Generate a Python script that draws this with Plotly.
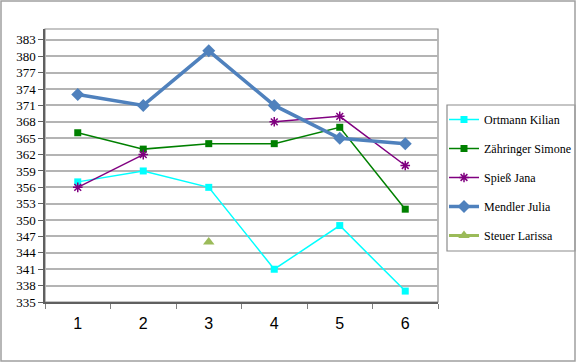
import plotly.graph_objects as go

categories = ["1", "2", "3", "4", "5", "6"]
ortmann = [357, 359, 356, 341, 349, 337]
zaehringer = [366, 363, 364, 364, 367, 352]
spiess = [356, 362, None, 368, 369, 360]
mendler = [373, 371, 381, 371, 365, 364]
steuer = [None, None, 346, None, None, None]
y_ticks = list(range(335, 386, 3))

SERIF = "Liberation Serif, Times New Roman, Times, serif"
SANS = "Liberation Sans, Arial, sans-serif"

fig = go.Figure()
fig.add_trace(go.Scatter(x=categories, y=ortmann, name="Ortmann Kilian", mode="lines+markers",
                         line=dict(color="#00FFFF", width=1.5),
                         marker=dict(symbol="square", size=7, color="#00FFFF")))
fig.add_trace(go.Scatter(x=categories, y=zaehringer, name="Zähringer Simone", mode="lines+markers",
                         line=dict(color="#008000", width=1.5),
                         marker=dict(symbol="square", size=7, color="#008000")))
fig.add_trace(go.Scatter(x=categories, y=spiess, name="Spieß Jana", mode="lines+markers",
                         connectgaps=False,
                         line=dict(color="#800080", width=1.5),
                         marker=dict(symbol="asterisk-open", size=8, color="#800080",
                                     line=dict(color="#800080", width=1.5))))
fig.add_trace(go.Scatter(x=categories, y=mendler, name="Mendler Julia", mode="lines+markers",
                         line=dict(color="#4F81BD", width=3.5),
                         marker=dict(symbol="diamond", size=10, color="#4F81BD")))
fig.add_trace(go.Scatter(x=categories, y=steuer, name="Steuer Larissa", mode="lines+markers",
                         line=dict(color="#9BBB59", width=3),
                         marker=dict(symbol="triangle-up", size=10, color="#9BBB59")))

for i, tr in enumerate(fig.data):
    tr.legendgroup = f"g{i}"

# plot area in page pixels: x 45..438, y 29..302
L, R, T, B = 45, 438, 29, 302
W, H = 577, 363
pw, ph = R - L, B - T

def px(x):
    return (x - L) / pw

def py(y):
    return (B - y) / ph

fig.update_layout(
    width=W, height=H,
    margin=dict(l=L, r=W - R, t=T, b=H - B, autoexpand=False),
    paper_bgcolor="white", plot_bgcolor="white",
    showlegend=True,
    legend=dict(x=px(444), y=py(105), xanchor="left", yanchor="top",
                borderwidth=0, bgcolor="rgba(0,0,0,0)",
                font=dict(family=SERIF, size=12, color="black"),
                tracegroupgap=10, itemwidth=30),
    xaxis=dict(type="category", tickson="boundaries", ticks="outside", ticklen=5,
               tickcolor="#808080", showgrid=False, showline=True, linecolor="#606060",
               linewidth=1.5, range=[-0.5, 5.5], ticklabelstandoff=6,
               tickfont=dict(family=SANS, size=16, color="black")),
    yaxis=dict(range=[335, 385], tickvals=y_ticks, ticks="outside", ticklen=5,
               tickcolor="#606060", showgrid=True, gridcolor="#b4b4b4", gridwidth=1.5,
               showline=True, linecolor="#606060", linewidth=1.5, zeroline=False,
               tickfont=dict(family=SERIF, size=13, color="black")),
    shapes=[
        dict(type="rect", xref="paper", yref="paper", x0=0, x1=1, y0=0, y1=1,
             line=dict(color="#8c8c8c", width=1.2), layer="below"),
        dict(type="rect", xref="paper", yref="paper", x0=px(447), x1=px(575),
             y0=py(251), y1=py(105), line=dict(color="#8c8c8c", width=1.2)),
        dict(type="rect", xref="paper", yref="paper", x0=px(1), x1=px(575),
             y0=py(361), y1=py(1), line=dict(color="#a0a0a0", width=1.5)),
    ],
)

fig.write_html("out.html", config={"displayModeBar": False},
               post_script="document.body.style.margin='0';")
